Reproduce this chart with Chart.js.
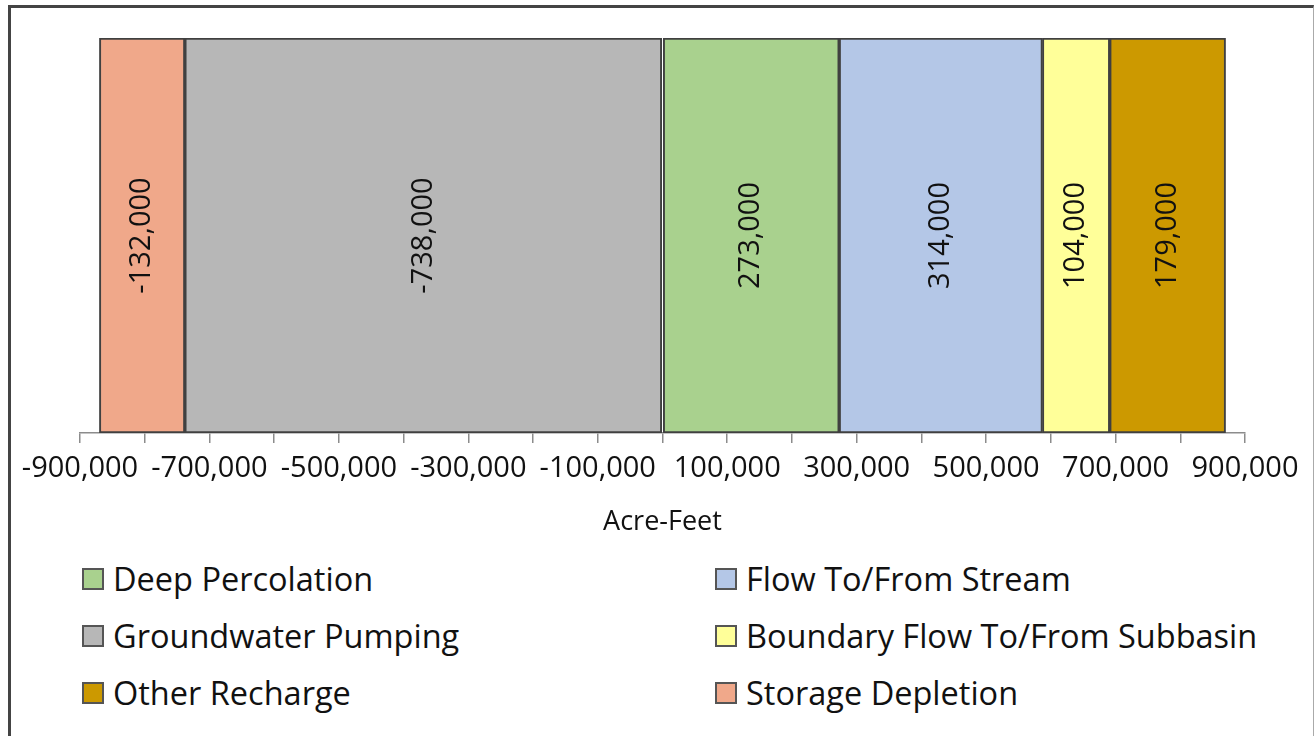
<!DOCTYPE html>
<html>
<head>
<meta charset="utf-8">
<script src="https://cdn.jsdelivr.net/npm/chart.js@4.4.1/dist/chart.umd.min.js"></script>
<style>
body{margin:0;background:#fff;width:1315px;height:736px;overflow:hidden;font-family:"Open Sans",sans-serif}
#frame{position:absolute;left:8px;top:5px;width:1302px;height:760px;border-top:3px solid #444;border-left:3px solid #444;border-right:1px solid #aaa}
#wrap{position:absolute;left:0;top:0;width:1315px;height:545px}
.item{position:absolute;display:flex;align-items:center;font-size:32.5px;color:#111;white-space:nowrap;line-height:1}
.box{width:18px;height:18px;border:2px solid #555;margin-right:9px;flex:none}
</style>
</head>
<body>
<div id="frame"></div>
<div id="wrap"><canvas id="chart"></canvas></div>
<div id="legend"></div>
<script>
// data
const categories = ['Water Budget']
const seriesNames = ['Deep Percolation','Flow To/From Stream','Groundwater Pumping','Boundary Flow To/From Subbasin','Other Recharge','Storage Depletion']
const deepPercolation = [273000]
const flowStream = [314000]
const gwPumping = [-738000]
const boundaryFlow = [104000]
const otherRecharge = [179000]
const storageDepletion = [-132000]
const seriesColors = ['#A9D18E','#B4C7E7','#B7B7B7','#FFFF99','#CC9900','#F0A88A']
const axisMin = -900000
const axisMax = 900000

const seriesValues = [deepPercolation,flowStream,gwPumping,boundaryFlow,otherRecharge,storageDepletion]

Chart.defaults.font.family = '"Open Sans", sans-serif'
Chart.defaults.color = '#111'

const barLabels = {
    id:'barLabels',
    afterDatasetsDraw(chart){
        const ctx = chart.ctx
        chart.data.datasets.forEach((ds,i)=>{
            chart.getDatasetMeta(i).data.forEach((bar,j)=>{
                ctx.save()
                ctx.translate((bar.x+bar.base)/2, bar.y)
                ctx.rotate(-Math.PI/2)
                ctx.font = '29px "Open Sans"'
                ctx.fillStyle = '#111'
                ctx.textAlign = 'center'
                ctx.textBaseline = 'middle'
                ctx.fillText(ds.data[j].toLocaleString('en-US'),0,0)
                ctx.restore()
            })
        })
    }
}

new Chart(document.getElementById('chart'),{
    type:'bar',
    data:{
        labels:categories,
        datasets:seriesNames.map((name,i)=>({
            label:name,
            data:seriesValues[i],
            backgroundColor:seriesColors[i],
            borderColor:'#404040',
            borderWidth:2,
            borderSkipped:false,
            barPercentage:1,
            categoryPercentage:1
        }))
    },
    options:{
        indexAxis:'y',
        responsive:true,
        maintainAspectRatio:false,
        animation:false,
        layout:{padding:{left:80,right:70,top:38,bottom:6}},
        plugins:{legend:{display:false},tooltip:{enabled:false}},
        scales:{
            y:{stacked:true,display:false},
            x:{
                stacked:true,
                min:axisMin,
                max:axisMax,
                afterFit(scale){ scale.height = 106 },
                border:{display:true,color:'#8c8c8c',width:1.5},
                grid:{drawOnChartArea:false,drawTicks:true,tickLength:10,color:'#8c8c8c',lineWidth:1.5},
                ticks:{
                    stepSize:100000,
                    autoSkip:false,
                    maxRotation:0,
                    padding:8,
                    font:{size:29},
                    color:'#111',
                    callback:v=>Math.abs(v/100000)%2===1 ? v.toLocaleString('en-US') : ''
                },
                title:{display:true,text:'Acre-Feet',font:{size:27},color:'#111',padding:{top:4,bottom:0}}
            }
        }
    },
    plugins:[barLabels]
})

// legend in two columns like the original
const legend = document.getElementById('legend')
const colX = [82,715]
const rowY = [579,636,693]
seriesNames.forEach((name,i)=>{
    const item = document.createElement('div')
    item.className = 'item'
    item.style.left = colX[i%2]+'px'
    item.style.top = (rowY[Math.floor(i/2)]-16)+'px'
    item.style.height = '32px'
    item.innerHTML = `<span class="box" style="background:${seriesColors[i]}"></span>${name}`
    legend.appendChild(item)
})
</script>
</body>
</html>
